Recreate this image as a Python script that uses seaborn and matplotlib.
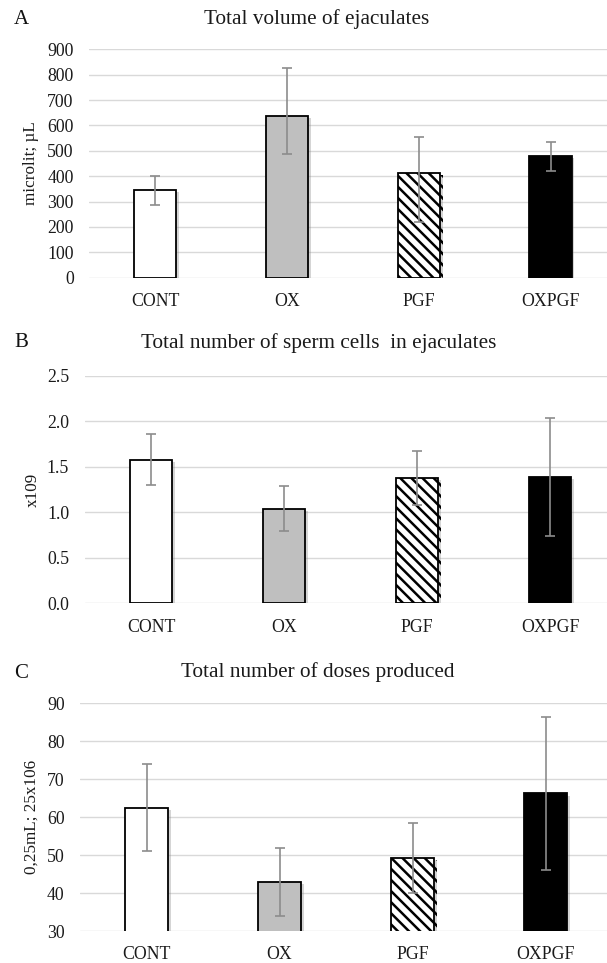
import numpy as np
import matplotlib
matplotlib.use("Agg")
import matplotlib.pyplot as plt
import matplotlib.patheffects as pe
import seaborn as sns

# ---- data ----
groups = ["CONT", "OX", "PGF", "OXPGF"]

vol_mean = [347, 637, 411, 478]
vol_hi = [402, 826, 556, 535]
vol_lo = [285, 487, 221, 419]

cells_mean = [1.58, 1.04, 1.38, 1.39]
cells_hi = [1.86, 1.29, 1.68, 2.04]
cells_lo = [1.30, 0.79, 1.08, 0.74]

doses_mean = [62.3, 42.9, 49.2, 66.2]
doses_hi = [73.9, 51.8, 58.4, 86.2]
doses_lo = [51.0, 34.0, 40.0, 46.1]

titles = ["Total volume of ejaculates",
          "Total number of sperm cells  in ejaculates",
          "Total number of doses produced"]
letters = ["A", "B", "C"]
ylabels = ["microlit; µL", "x109", "0,25mL; 25x106"]
yticks_list = [list(range(0, 901, 100)),
               [0.0, 0.5, 1.0, 1.5, 2.0, 2.5],
               list(range(30, 91, 10))]
ytick_fmt = ["{:.0f}", "{:.1f}", "{:.0f}"]

bar_colors = ["white", "#bfbfbf", "white", "black"]

sns.set_theme(style="white")
plt.rcParams["font.family"] = ["Liberation Serif", "DejaVu Serif"]
plt.rcParams["hatch.linewidth"] = 1.8
plt.rcParams["hatch.color"] = "black"

W, H = 607, 963
fig = plt.figure(figsize=(W / 100, H / 100), dpi=100)

# axes boxes in pixels: left, right, top, bottom
boxes = [(89, 616.5, 49.3, 277.7),
         (84.5, 616.5, 376.0, 603.3),
         (80.0, 612.0, 703.0, 931.0)]
title_y = [19, 343.3, 671.7]
title_x = [317, 319, 318]
letter_y = [19.5, 342.7, 673]
ylabel_x = [31, 33, 32]

datasets = [(vol_mean, vol_lo, vol_hi), (cells_mean, cells_lo, cells_hi),
            (doses_mean, doses_lo, doses_hi)]

txt_color = "#1a1a1a"

for i, (means, lo, hi) in enumerate(datasets):
    l, r, t, b = boxes[i]
    ax = fig.add_axes([l / W, 1 - b / H, (r - l) / W, (b - t) / H])
    sns.barplot(x=groups, y=means, hue=groups, palette=bar_colors, legend=False,
                width=0.32, edgecolor="black", linewidth=1.3, errorbar=None,
                ax=ax, zorder=3)
    for j, p in enumerate(ax.patches):
        p.set_path_effects([pe.SimplePatchShadow(offset=(2.0, -1.5),
                                                 shadow_rgbFace="#888888",
                                                 alpha=0.35),
                            pe.Normal()])
        if groups[j] == "PGF":
            p.set_hatch("\\\\\\")
    xpos = np.arange(len(groups))
    m = np.array(means)
    yerr = np.vstack([m - np.array(lo), np.array(hi) - m])
    ax.errorbar(xpos, m, yerr=yerr, fmt="none", ecolor="#8c8c8c",
                elinewidth=1.2, capsize=3.5, capthick=1.2, zorder=4)
    yt = yticks_list[i]
    ax.set_ylim(yt[0], yt[-1])
    ax.set_xlim(-0.5, 3.5)
    ax.set_yticks(yt)
    ax.set_yticklabels([ytick_fmt[i].format(v) for v in yt])
    ax.yaxis.grid(True, color="#d9d9d9", linewidth=1.0, zorder=0)
    ax.set_axisbelow(True)
    for s in ax.spines.values():
        s.set_visible(False)
    ax.tick_params(axis="y", length=0, pad=11, labelsize=12.8, colors=txt_color)
    ax.tick_params(axis="x", length=0, pad=11, labelsize=12.8, colors=txt_color)
    ax.set_ylabel("")
    ax.set_xlabel("")
    fig.text(ylabel_x[i] / W, 1 - ((t + b) / 2) / H, ylabels[i], rotation=90,
             ha="center", va="center", fontsize=12.3, color=txt_color)
    fig.text(title_x[i] / W, 1 - title_y[i] / H, titles[i], ha="center",
             va="center", fontsize=15.3, color=txt_color)
    fig.text(21 / W, 1 - letter_y[i] / H, letters[i], ha="center",
             va="center", fontsize=15, color="#111111")

fig.savefig("out.png", dpi=100)
